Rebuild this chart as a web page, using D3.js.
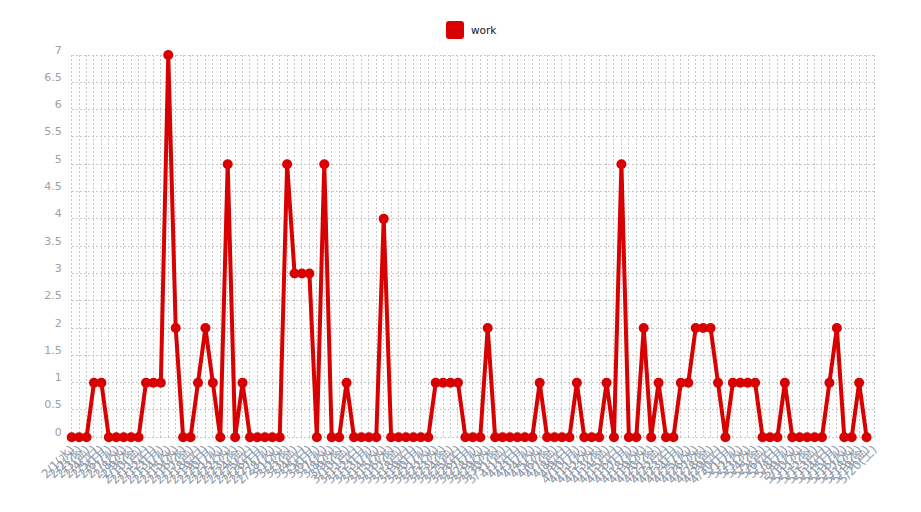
<!DOCTYPE html>
<html>
<head>
<meta charset="utf-8">
<script src="https://cdn.jsdelivr.net/npm/d3@7"></script>
<style>
html,body{margin:0;padding:0;background:#fff;}
svg{display:block;}
</style>
</head>
<body>
<svg id="chart" width="921" height="512"></svg>
<script>
const seriesName = "work";
const categories = [
"2/1(水)","2/2(木)","2/3(金)","2/4(土)","2/5(日)","2/6(月)","2/7(火)","2/8(水)","2/9(木)","2/10(金)",
"2/11(土)","2/12(日)","2/13(月)","2/14(火)","2/15(水)","2/16(木)","2/17(金)","2/18(土)","2/19(日)","2/20(月)",
"2/21(火)","2/22(水)","2/23(木)","2/24(金)","2/25(土)","2/26(日)","2/27(月)","2/28(火)",
"3/1(水)","3/2(木)","3/3(金)","3/4(土)","3/5(日)","3/6(月)","3/7(火)","3/8(水)","3/9(木)","3/10(金)",
"3/11(土)","3/12(日)","3/13(月)","3/14(火)","3/15(水)","3/16(木)","3/17(金)","3/18(土)","3/19(日)","3/20(月)",
"3/21(火)","3/22(水)","3/23(木)","3/24(金)","3/25(土)","3/26(日)","3/27(月)","3/28(火)","3/29(水)","3/30(木)","3/31(金)",
"4/1(土)","4/2(日)","4/3(月)","4/4(火)","4/5(水)","4/6(木)","4/7(金)","4/8(土)","4/9(日)","4/10(月)",
"4/11(火)","4/12(水)","4/13(木)","4/14(金)","4/15(土)","4/16(日)","4/17(月)","4/18(火)","4/19(水)","4/20(木)",
"4/21(金)","4/22(土)","4/23(日)","4/24(月)","4/25(火)","4/26(水)","4/27(木)","4/28(金)","4/29(土)","4/30(日)",
"5/1(月)","5/2(火)","5/3(水)","5/4(木)","5/5(金)","5/6(土)","5/7(日)","5/8(月)","5/9(火)","5/10(水)",
"5/11(木)","5/12(金)","5/13(土)","5/14(日)","5/15(月)","5/16(火)","5/17(水)","5/18(木)","5/19(金)","5/20(土)"
];
const workValues = [
0,0,0,1,1,0,0,0,0,0,
1,1,1,7,2,0,0,1,2,1,
0,5,0,1,0,0,0,0,0,5,
3,3,3,0,5,0,0,1,0,0,
0,0,4,0,0,0,0,0,0,1,
1,1,1,0,0,0,2,0,0,0,
0,0,0,1,0,0,0,0,1,0,
0,0,1,0,5,0,0,2,0,1,
0,0,1,1,2,2,2,1,0,1,
1,1,1,0,0,0,1,0,0,0,
0,0,1,2,0,0,1,0
];
const yTicks = [0,0.5,1,1.5,2,2.5,3,3.5,4,4.5,5,5.5,6,6.5,7];

(function () {
const color = "#d80000";
const svg = d3.select("#chart");
const mLeft = 71.7, mRight = 874, mTop = 55, mBottom = 437.3;

const x = d3.scalePoint().domain(categories).range([mLeft, mRight]).padding(0);
const y = d3.scaleLinear().domain([0, 7]).range([mBottom, mTop]);

const grid = svg.append("g").attr("class","grid");
grid.selectAll("line.h").data(yTicks).join("line")
  .attr("class","h")
  .attr("x1", mLeft).attr("x2", mRight)
  .attr("y1", d => y(d)).attr("y2", d => y(d))
  .attr("stroke","#c8c8c8").attr("stroke-width",1).attr("stroke-dasharray","2,2")
  .attr("shape-rendering","crispEdges");
grid.selectAll("line.v").data(categories).join("line")
  .attr("class","v")
  .attr("x1", d => x(d)).attr("x2", d => x(d))
  .attr("y1", mTop).attr("y2", mBottom)
  .attr("stroke","#c8c8c8").attr("stroke-width",1).attr("stroke-dasharray","2,2")
  .attr("shape-rendering","crispEdges");

const yAxis = d3.axisLeft(y).tickValues(yTicks).tickSize(0).tickPadding(0)
  .tickFormat(d => String(d));
const yg = svg.append("g").attr("transform", `translate(${mLeft - 10},0)`).call(yAxis);
yg.select(".domain").remove();
yg.selectAll("text")
  .attr("fill","#a0a0a0")
  .attr("font-family","'DejaVu Sans', Verdana, sans-serif")
  .attr("font-size","11px")
  .attr("dy","-2px")
  .attr("text-anchor","end");

const xAxis = d3.axisBottom(x).tickSize(0).tickPadding(0);
const xg = svg.append("g").attr("transform", `translate(0,${mBottom + 10})`).call(xAxis);
xg.select(".domain").remove();
xg.selectAll("text")
  .attr("fill","#8f98a8")
  .attr("font-family","'DejaVu Sans', Verdana, sans-serif")
  .attr("font-size","12px")
  .attr("text-anchor","end")
  .attr("dy","0.35em")
  .attr("transform","rotate(-45)");

const line = d3.line()
  .x((d, i) => x(categories[i]))
  .y(d => y(d));
svg.append("path")
  .datum(workValues)
  .attr("d", line)
  .attr("fill","none")
  .attr("stroke", color)
  .attr("stroke-width", 4)
  .attr("stroke-linejoin","round");

svg.append("g").selectAll("circle").data(workValues).join("circle")
  .attr("cx", (d, i) => x(categories[i]))
  .attr("cy", d => y(d))
  .attr("r", 5)
  .attr("fill", color);

const lg = svg.append("g").attr("transform","translate(446,21)");
lg.append("rect").attr("width",18).attr("height",18).attr("rx",3).attr("fill",color);
lg.append("text").attr("x",25).attr("y",9).attr("dy","0.35em")
  .attr("font-family","'DejaVu Sans', Verdana, sans-serif")
  .attr("font-size","10.5px").attr("fill","#111133").text(seriesName);
})();
</script>
</body>
</html>
